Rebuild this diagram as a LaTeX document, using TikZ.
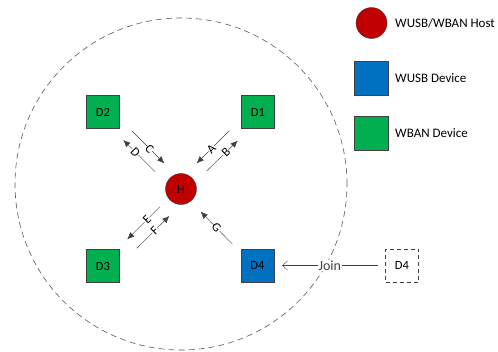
\documentclass[tikz,border=0pt]{standalone}
\usepackage{fontspec}
\setmainfont{Carlito}
\usepackage{xcolor}
\usetikzlibrary{positioning}
\usetikzlibrary{arrows.meta}

\definecolor{hostred}{HTML}{C00000}
\definecolor{usbblue}{HTML}{0070C0}
\definecolor{bangreen}{HTML}{00B050}

\tikzset{
  device/.style={draw=black!75, minimum size=33pt, inner sep=0pt, font=\fontsize{12.5}{15}\selectfont},
  ban/.style={device, fill=bangreen},
  usb/.style={device, fill=usbblue},
  host/.style={circle, draw=black!75, fill=hostred, minimum size=31pt, inner sep=0pt, font=\fontsize{12.5}{15}\selectfont},
  msg/.style={draw=black!75, -{Latex[length=7pt,width=6pt]}},
  lbl/.style={sloped, fill=white, inner sep=0.2pt, font=\fontsize{12.5}{15}\selectfont},
  keytext/.style={right=#1, font=\fontsize{13}{16}\selectfont}
}

\begin{document}
\begin{tikzpicture}[x=1pt,y=-1pt]
\useasboundingbox (0,0) rectangle (498,351);

% Range of the host: dashed circle
\draw[black!65, line width=0.6pt, dash pattern=on 6pt off 4pt] (181,184) circle (166pt);

% Host and devices
\node[host] (H) at (181,189) {H};
\node[ban] (D1) at (258,112) {D1};
\node[ban] (D2) at (103,112) {D2};
\node[ban] (D3) at (103,266) {D3};
\node[usb] (D4) at (257.5,265.5) {D4};
\node[device, dash pattern=on 4pt off 3pt] (D4out) at (402,265.5) {D4};

% Message ends
\coordinate (c1) at (131.7,130.7); \coordinate (c2) at (164.3,163.3);
\coordinate (d1) at (155,171.7);   \coordinate (d2) at (123.3,140);
\coordinate (a1) at (229.3,130.7); \coordinate (a2) at (196.7,163.3);
\coordinate (b1) at (206.7,171);   \coordinate (b2) at (237.7,140.7);
\coordinate (e1) at (160,206.7);   \coordinate (e2) at (127.3,239.3);
\coordinate (f1) at (136.7,248.3); \coordinate (f2) at (169.3,216);
\coordinate (g1) at (232.3,244);   \coordinate (g2) at (200.7,211.7);

% Messages between host and devices
\draw[msg] (c1) -- node[lbl, pos=0.55] {C} (c2);
\draw[msg] (d1) -- node[lbl, pos=0.62] {D} (d2);
\draw[msg] (a1) -- node[lbl, pos=0.55] {A} (a2);
\draw[msg] (b1) -- node[lbl, pos=0.62] {B} (b2);
\draw[msg] (e1) -- node[lbl, pos=0.4] {E} (e2);
\draw[msg] (f1) -- node[lbl, pos=0.55] {F} (f2);
\draw[msg] (g1) -- node[lbl] {G} (g2);

% Joining device
\draw[black!75, -{Straight Barb[length=5pt,width=9pt]}, shorten >=8pt, shorten <=7pt] (D4out) -- node[fill=white, inner sep=1pt, font=\fontsize{14}{17}\selectfont] {Join} (D4);

% Legend
\node[host] (keyhost) at (371.5,23) {};
\node[keytext=4.5pt of keyhost] {WUSB/WBAN Host};
\node[usb, minimum size=34pt] (keyusb) at (371,78) {};
\node[keytext=3.5pt of keyusb] {WUSB Device};
\node[ban, minimum size=34pt] (keyban) at (371,133) {};
\node[keytext=3.5pt of keyban] {WBAN Device};

\end{tikzpicture}
\end{document}
